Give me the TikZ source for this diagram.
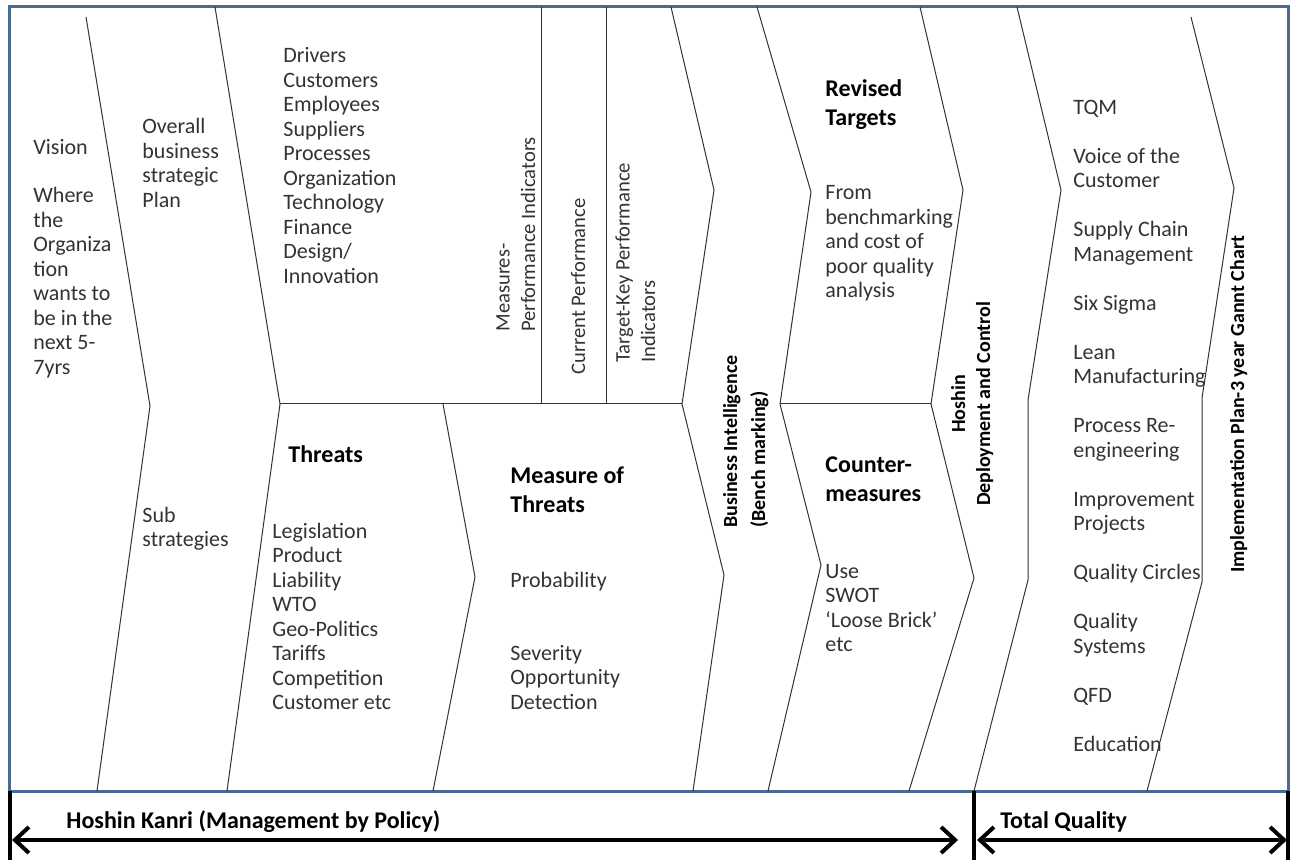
\documentclass[tikz,border=0pt]{standalone}
\usepackage{fontspec}
\setmainfont{Carlito}
\usepackage{tikz}
\usetikzlibrary{arrows.meta}
\definecolor{framecol}{RGB}{74,107,145}

\begin{document}
\begin{tikzpicture}[x=0.5pt,y=-0.5pt,
  main text/.style={anchor=base west,inner sep=0pt,align=left,text=black!80,font=\fontsize{11}{12.25}\selectfont},
  head text/.style={anchor=base west,inner sep=0pt,align=left,font=\fontsize{12}{14.5}\selectfont\bfseries},
  side text/.style={rotate=90,anchor=base west,inner sep=0pt,align=left,text=black!80,font=\fontsize{10.3}{12.75}\selectfont},
  side head/.style={rotate=90,anchor=base west,inner sep=0pt,align=left,font=\fontsize{10}{14}\selectfont\bfseries},
  chev line/.style={draw=black!80,line width=0.5pt},
  bar line/.style={line width=2pt},
  span arrow/.style={line width=2pt,{Straight Barb[length=7pt,width=13pt]}-{Straight Barb[length=7pt,width=13pt]}}]
  \useasboundingbox (0,0) rectangle (1294,860);

  % frame
  \draw[framecol,line width=1.5pt] (9,7) rectangle (1288,791);

  % chevrons
  \draw[chev line] (86,17) -- (150,406) -- (97,791);
  \draw[chev line] (215,7) -- (280,404) -- (227,791);
  \draw[chev line] (280,404) -- (682,404);
  \draw[chev line] (541,7) -- (541,404);
  \draw[chev line] (606,7) -- (606,404);
  \draw[chev line] (443,404) -- (475,577) -- (433,791);
  \draw[chev line] (671,7) -- (714,190) -- (682,404) -- (724,575) -- (693,791);
  \draw[chev line] (757,7) -- (811,192) -- (780,404) -- (821,565) -- (768,791);
  \draw[chev line] (780,404) -- (931,404);
  \draw[chev line] (920,7) -- (963,190) -- (931,404) -- (974,578) -- (909,791);
  \draw[chev line] (1017,7) -- (1061,190) -- (1028,400) -- (1028,580) -- (974,791);
  \draw[chev line] (1191,17) -- (1234,188) -- (1202,398) -- (1202,582) -- (1147,791);

  % texts (base = last line)
  \node[main text] (vision) at (33,155) {Vision};
  \node[main text] (where) at (33,374.5) {Where\\the\\Organiza\\tion\\wants to\\be in the\\next 5-\\7yrs};
  \node[main text] (overall) at (142,207.5) {Overall\\business\\strategic\\Plan};
  \node[main text] (sub) at (142,546.5) {Sub\\strategies};
  \node[main text] (drivers) at (283,283.5) {Drivers\\Customers\\Employees\\Suppliers\\Processes\\Organization\\Technology\\Finance\\Design/\\Innovation};
  \node[head text] (threats) at (288,463) {Threats};
  \node[main text] (legis) at (272,709.5) {Legislation\\Product\\Liability\\WTO\\Geo-Politics\\Tariffs\\Competition\\Customer etc};
  \node[head text] (measure) at (510,512) {Measure of\\Threats};
  \node[main text] (prob) at (510,587) {Probability};
  \node[main text] (sev) at (510,709) {Severity\\Opportunity\\Detection};
  \node[side text] (kpi) at (535,332) {Measures-\\Performance Indicators};
  \node[side text] (current) at (585,375) {Current Performance};
  \node[side text] (target) at (655,363) {Target-Key Performance\\Indicators};
  \node[side head] (bench) at (765,528) {Business Intelligence\\(Bench marking)};
  \node[head text] (revised) at (825,126) {Revised\\Targets};
  \node[main text] (from) at (825,298) {From\\benchmarking\\and cost of\\poor quality\\analysis};
  \node[head text] (counter) at (825,502) {Counter-\\measures};
  \node[main text] (use) at (825,651.5) {Use\\SWOT\\‘Loose Brick’\\etc};
  \node[side head,anchor=base,align=center,font=\fontsize{10}{12.5}\selectfont\bfseries] (hoshin) at (990,404) {Hoshin\\Deployment and Control};
  \node[main text] (tqm) at (1073,751) {TQM\\[12.25pt]Voice of the\\Customer\\[12.25pt]Supply Chain\\Management\\[12.25pt]Six Sigma\\[12.25pt]Lean\\Manufacturing\\[12.25pt]Process Re-\\engineering\\[12.25pt]Improvement\\Projects\\[12.25pt]Quality Circles\\[12.25pt]Quality\\Systems\\[12.25pt]QFD\\[12.25pt]Education};
  \node[side head] (plan) at (1244,573) {Implementation Plan-3 year Gannt Chart};

  % bottom spans
  \draw[bar line] (10,791) -- (10,860);
  \draw[bar line] (974,791) -- (974,860);
  \draw[bar line] (1288,791) -- (1288,860);
  \coordinate (s1) at (10,840);
  \coordinate (s2) at (974,840);
  \coordinate (s3) at (1288,840);
  \draw[span arrow,shorten <=1pt,shorten >=8pt] (s1) -- (s2);
  \draw[span arrow,shorten <=1.5pt,shorten >=0.5pt] (s2) -- (s3);
  \node[head text] (kanri) at (66,828) {Hoshin Kanri (Management by Policy)};
  \node[head text] (total) at (1000,828) {Total Quality};
\end{tikzpicture}
\end{document}
